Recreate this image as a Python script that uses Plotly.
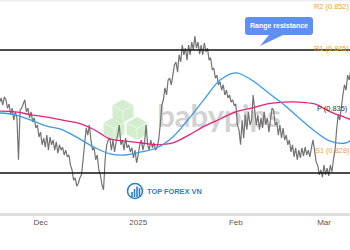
import plotly.graph_objects as go
import pandas as pd

# ---------------- data ----------------
# price sampled every 12 hours starting 2024-11-18 00:00
price = [
    0.8363, 0.8370, 0.8358, 0.8372, 0.8367, 0.8353, 0.8360, 0.8342, 0.8353, 0.8333,
    0.8347, 0.8337, 0.8267, 0.8350, 0.8353, 0.8360, 0.8367, 0.8347, 0.8353, 0.8337,
    0.8347, 0.8330, 0.8337, 0.8320, 0.8325, 0.8305,
    # December
    0.8313, 0.8292, 0.8303, 0.8288, 0.8308, 0.8283, 0.8305, 0.8292, 0.8300, 0.8283,
    0.8297, 0.8278, 0.8292, 0.8283, 0.8288, 0.8275, 0.8283, 0.8272, 0.8275, 0.8258,
    0.8250, 0.8233, 0.8237, 0.8223, 0.8228, 0.8237, 0.8242, 0.8267, 0.8300, 0.8320,
    0.8308, 0.8325, 0.8300, 0.8283, 0.8287, 0.8267, 0.8275, 0.8250, 0.8242, 0.8225,
    0.8217, 0.8267, 0.8292, 0.8300, 0.8303, 0.8283, 0.8300, 0.8280, 0.8297, 0.8308,
    0.8325, 0.8292, 0.8300, 0.8283, 0.8303, 0.8287, 0.8292, 0.8280, 0.8287, 0.8270,
    0.8283, 0.8262,
    # January
    0.8275, 0.8292, 0.8300, 0.8283, 0.8295, 0.8325, 0.8292, 0.8283, 0.8300, 0.8287,
    0.8295, 0.8283, 0.8288, 0.8300, 0.8325, 0.8358, 0.8367, 0.8387, 0.8375, 0.8400,
    0.8403, 0.8392, 0.8408, 0.8425, 0.8430, 0.8413, 0.8442, 0.8430, 0.8458, 0.8442,
    0.8453, 0.8433, 0.8458, 0.8442, 0.8463, 0.8450, 0.8473, 0.8453, 0.8463, 0.8443,
    0.8458, 0.8442, 0.8462, 0.8447, 0.8453, 0.8433, 0.8437, 0.8417, 0.8420, 0.8403,
    0.8408, 0.8392, 0.8397, 0.8383, 0.8392, 0.8375, 0.8383, 0.8370, 0.8375, 0.8363,
    0.8367, 0.8357,
    # February
    0.8360, 0.8325, 0.8317, 0.8292, 0.8333, 0.8303, 0.8342, 0.8317, 0.8347, 0.8325,
    0.8333, 0.8375, 0.8350, 0.8325, 0.8342, 0.8317, 0.8337, 0.8320, 0.8347, 0.8325,
    0.8337, 0.8313, 0.8333, 0.8353, 0.8350, 0.8325, 0.8330, 0.8308, 0.8325, 0.8303,
    0.8320, 0.8300, 0.8308, 0.8292, 0.8300, 0.8280, 0.8292, 0.8272, 0.8287, 0.8267,
    0.8283, 0.8270, 0.8287, 0.8273, 0.8288, 0.8275, 0.8283, 0.8272, 0.8287, 0.8300,
    0.8283, 0.8263, 0.8258, 0.8242, 0.8250, 0.8238,
    # March
    0.8258, 0.8242, 0.8253, 0.8240, 0.8258, 0.8247, 0.8267, 0.8283, 0.8317, 0.8342,
    0.8333, 0.8358, 0.8375, 0.8392, 0.8383, 0.8408, 0.8400, 0.8417,
]
price_start = "2024-11-18 00:00"
price_step = "12h"

ma_dates = [
    "2024-11-18", "2024-11-23", "2024-11-28", "2024-12-03", "2024-12-08", "2024-12-13",
    "2024-12-18", "2024-12-23", "2024-12-28", "2025-01-02", "2025-01-07", "2025-01-12",
    "2025-01-17", "2025-01-22", "2025-01-27", "2025-02-01", "2025-02-06", "2025-02-11",
    "2025-02-16", "2025-02-21", "2025-02-26", "2025-03-03", "2025-03-08", "2025-03-10",
]
ma_fast = [
    0.8345, 0.8342, 0.8333, 0.8323, 0.8317, 0.8303, 0.8288, 0.8277, 0.8275, 0.8280,
    0.8287, 0.8305, 0.8335, 0.8368, 0.8400, 0.8412, 0.8400, 0.8380, 0.8360, 0.8337,
    0.8315, 0.8298, 0.8295, 0.8302,
]
ma_slow = [
    0.8348, 0.8347, 0.8342, 0.8338, 0.8333, 0.8328, 0.8317, 0.8302, 0.8298, 0.8295,
    0.8292, 0.8295, 0.8308, 0.8323, 0.8335, 0.8347, 0.8353, 0.8360, 0.8363, 0.8363,
    0.8360, 0.8347, 0.8337, 0.8333,
]

pivot_names = ["R2", "R1", "P", "S1"]
pivot_values = [0.852, 0.845, 0.835, 0.828]
range_top = 0.845
range_bottom = 0.8245

tick_dates = ["2024-12-01", "2025-01-01", "2025-02-01", "2025-03-01"]
tick_text = ["Dec", "2025", "Feb", "Mar"]

X_RANGE = ["2024-11-18 03:00", "2025-03-09 06:00"]
Y_RANGE = [0.81783, 0.85333]

# ---------------- figure ----------------
W, H = 350, 250
M_B = 37
PH = H - M_B  # plot-area height in px


def px(x, y):
    """pixel position inside plot area -> paper coords"""
    return x / W, 1 - y / PH


def px_data(x, y):
    """pixel position inside plot area -> data coords"""
    t0, t1 = pd.Timestamp(X_RANGE[0]), pd.Timestamp(X_RANGE[1])
    return t0 + (t1 - t0) * (x / W), Y_RANGE[1] - (Y_RANGE[1] - Y_RANGE[0]) * (y / PH)


def path_from(points, close=True):
    parts = []
    for cmd, pts in points:
        coords = " ".join("%.5f,%.5f" % px(a, b) for a, b in pts)
        parts.append(cmd + " " + coords)
    return " ".join(parts) + (" Z" if close else "")


price_times = pd.date_range(price_start, periods=len(price), freq=price_step)

fig = go.Figure()
# babypips text watermark (drawn underneath the data)
wx, wy = px_data(219, 119)
fig.add_trace(go.Scatter(x=[wx], y=[wy], mode="text", text=["<b>babypips</b>"],
                         textfont=dict(family="Lato", size=31, color="#d2d2d2"),
                         textposition="middle center", hoverinfo="skip"))
fig.add_trace(go.Scatter(x=price_times, y=price, mode="lines",
                         line=dict(color="#737373", width=1.2), hoverinfo="skip"))
fig.add_trace(go.Scatter(x=pd.to_datetime(ma_dates), y=ma_slow, mode="lines",
                         line=dict(color="#e8217a", width=1.3, shape="spline"), hoverinfo="skip"))
fig.add_trace(go.Scatter(x=pd.to_datetime(ma_dates), y=ma_fast, mode="lines",
                         line=dict(color="#3a9be8", width=1.3, shape="spline"), hoverinfo="skip"))

shapes = []
# range lines
for lvl in (range_top, range_bottom):
    shapes.append(dict(type="line", xref="paper", x0=0, x1=1, yref="y", y0=lvl, y1=lvl,
                       line=dict(color="#111111", width=1.3), layer="above"))
# top frame line
shapes.append(dict(type="line", xref="paper", yref="paper", x0=0, x1=1, y0=0.996, y1=0.996,
                   line=dict(color="#e6e6e6", width=1)))


# babypips cubes watermark
def hexagon(cx, cy, w, r):
    pts = [(cx, cy - r), (cx + w / 2, cy - r / 2), (cx + w / 2, cy + r / 2),
           (cx, cy + r), (cx - w / 2, cy + r / 2), (cx - w / 2, cy - r / 2)]
    return path_from([("M", [pts[0]])] + [("L", [p]) for p in pts[1:]])


def cube_edges(cx, cy, w, r):
    return path_from([("M", [(cx - w / 2, cy - r / 2)]), ("L", [(cx, cy)]), ("L", [(cx + w / 2, cy - r / 2)]),
                      ("M", [(cx, cy)]), ("L", [(cx, cy + r)])], close=False)


for cx, cy in [(123, 111), (114, 128.5), (137, 128.5)]:
    shapes.append(dict(type="path", xref="paper", yref="paper", path=hexagon(cx, cy, 21, 11.5),
                       fillcolor="rgba(175,224,165,0.55)", line=dict(width=0), layer="below"))
    shapes.append(dict(type="path", xref="paper", yref="paper", path=cube_edges(cx, cy, 21, 11.5),
                       line=dict(color="rgba(255,255,255,0.7)", width=0.8), layer="below"))

# callout bubble
bubble = path_from([
    ("M", [(248, 17)]), ("L", [(310, 17)]), ("Q", [(313, 17), (313, 20)]),
    ("L", [(313, 32)]), ("Q", [(313, 35), (310, 35)]), ("L", [(283, 35)]), ("L", [(260, 46)]),
    ("L", [(269, 35)]), ("L", [(248, 35)]),
    ("Q", [(245, 35), (245, 32)]), ("L", [(245, 20)]), ("Q", [(245, 17), (248, 17)]),
])
shapes.append(dict(type="path", xref="paper", yref="paper", path=bubble,
                   fillcolor="#5f8ff0", line=dict(width=0), layer="above"))

# TOP FOREX VN icon
x0, y0 = px(127.5, 183.5)
x1, y1 = px(142.5, 198.5)
shapes.append(dict(type="circle", xref="paper", yref="paper", x0=x0, x1=x1, y0=y1, y1=y0,
                   line=dict(color="#2f7fc0", width=1.6), layer="above"))
for bx, top in [(132, 192), (134.5, 189), (137, 186.5), (139.5, 188)]:
    a0, b0 = px(bx - 0.8, top)
    a1, b1 = px(bx + 0.8, 197)
    shapes.append(dict(type="rect", xref="paper", yref="paper", x0=a0, x1=a1, y0=b1, y1=b0,
                       fillcolor="#2f7fc0", line=dict(width=0), layer="above"))

annotations = []
# TOP FOREX VN text
tx, ty = px(144.5, 191)
annotations.append(dict(xref="paper", yref="paper", x=tx, y=ty, text="<b>TOP FOREX VN</b>",
                        showarrow=False, font=dict(family="Liberation Sans", size=7.4, color="#2f7fc0"),
                        xanchor="left", yanchor="middle"))
# callout text
tx, ty = px(279, 26)
annotations.append(dict(xref="paper", yref="paper", x=tx, y=ty, text="<b>Range resistance</b>",
                        showarrow=False, font=dict(family="Liberation Sans", size=7, color="white"),
                        xanchor="center", yanchor="middle"))
# pivot labels
label_x = {"R2": 312, "R1": 312, "P": 315, "S1": 313}
for name, val in zip(pivot_names, pivot_values):
    col = "#333333" if name == "P" else "#f5a030"
    annotations.append(dict(xref="paper", yref="y", x=label_x[name] / W, y=val,
                            text="%s (%.3f)" % (name, val), showarrow=False, yshift=1,
                            font=dict(family="Liberation Sans", size=7.4, color=col),
                            xanchor="left", yanchor="middle"))

fig.update_layout(
    width=W, height=H,
    margin=dict(l=0, r=0, t=0, b=M_B),
    paper_bgcolor="white", plot_bgcolor="rgba(0,0,0,0)",
    showlegend=False,
    shapes=shapes, annotations=annotations,
    xaxis=dict(range=X_RANGE, showgrid=False, zeroline=False,
               showline=True, linecolor="#dddddd", linewidth=2.5,
               tickmode="array", tickvals=tick_dates, ticktext=tick_text, ticks="",
               tickfont=dict(family="Liberation Sans", size=8, color="#555555"),
               ticklabelstandoff=0),
    yaxis=dict(range=Y_RANGE, showgrid=False, zeroline=False, visible=False),
)

fig.write_html("out.html")
